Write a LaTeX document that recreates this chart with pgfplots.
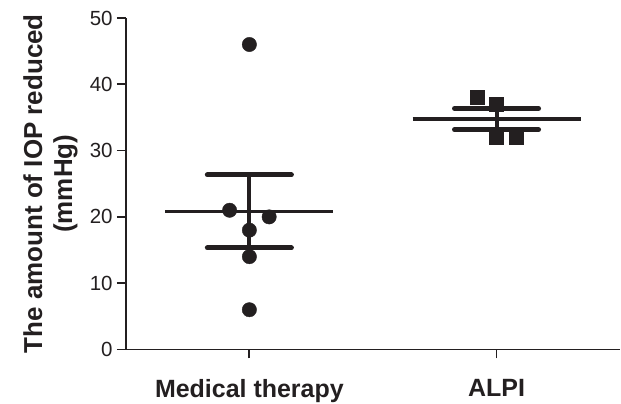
\documentclass[border=0pt]{standalone}
\usepackage{pgfplots}
\pgfplotsset{compat=1.18}
\usepackage{fontspec}
\setmainfont{Liberation Sans}
\definecolor{ink}{HTML}{231F20}

\begin{document}
\begin{tikzpicture}
\begin{axis}[
    scale only axis,
    width=495bp, height=332bp,
    xmin=-0.5, xmax=1.5, ymin=0, ymax=50,
    axis lines*=left,
    axis line style={ink, line width=1.8bp},
    tick style={ink, line width=1.8bp},
    tick align=outside,
    major tick length=9bp,
    xtick={0,1},
    xticklabels={Medical therapy, ALPI},
    ytick={0,10,20,30,40,50},
    /pgf/number format/assume math mode=true,
    xticklabel style={font=\fontsize{25bp}{29bp}\selectfont\bfseries, text=ink, inner sep=0pt, anchor=north, yshift=-21bp},
    yticklabel style={font=\fontsize{20.5bp}{24bp}\selectfont, text=ink, inner sep=0pt, anchor=east, xshift=-4bp},
    ylabel={The amount of IOP reduced\\(mmHg)},
    ylabel style={font=\fontsize{26bp}{30bp}\selectfont\bfseries, text=ink, align=center, inner sep=0pt,
        at={(axis description cs:-0.097,0.5)}, anchor=south},
    clip=false,
]
% medical therapy: mean and SEM
\addplot[ink, line width=3.5bp] coordinates {(-0.34,20.83) (0.34,20.83)};
\addplot[ink, line width=4bp] coordinates {(0,15.33) (0,26.33)};
\addplot[ink, line width=5bp, line cap=round] coordinates {(-0.17,26.33) (0.17,26.33)};
\addplot[ink, line width=5bp, line cap=round] coordinates {(-0.17,15.33) (0.17,15.33)};
% ALPI: mean and SEM
\addplot[ink, line width=3.5bp] coordinates {(0.66,34.75) (1.34,34.75)};
\addplot[ink, line width=4bp] coordinates {(1,33.15) (1,36.35)};
\addplot[ink, line width=5bp, line cap=round] coordinates {(0.83,36.35) (1.17,36.35)};
\addplot[ink, line width=5bp, line cap=round] coordinates {(0.83,33.15) (1.17,33.15)};
% individual eyes
\addplot[only marks, mark=*, mark size=7.2bp, ink] coordinates {
    (0,46) (-0.08,21) (0.08,20) (0,18) (0,14) (0,6)
};
\addplot[only marks, mark=square*, mark size=7bp, ink] coordinates {
    (0.92,38) (1,37) (1,32) (1.08,32)
};
\path (rel axis cs:-0.2545,-0.1627) rectangle (rel axis cs:1,1.0542);
\end{axis}
\end{tikzpicture}
\end{document}
